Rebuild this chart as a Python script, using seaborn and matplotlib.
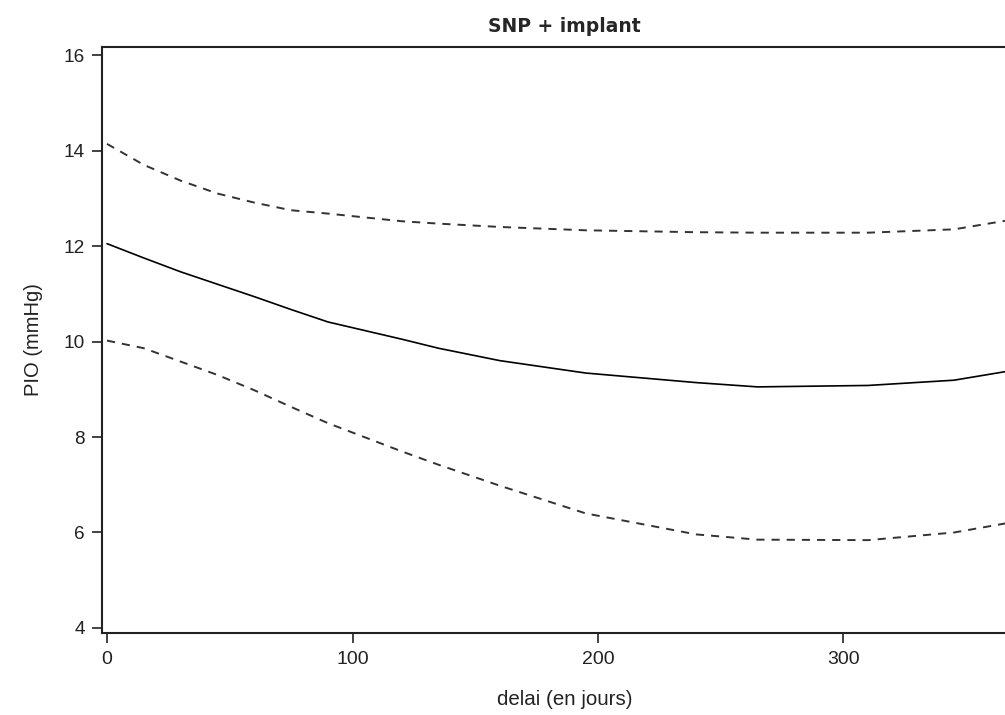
import matplotlib
matplotlib.use("Agg")
import matplotlib.pyplot as plt
import seaborn as sns
import pandas as pd

# Model estimate of IOP over time with its confidence limits
delai = [0, 15, 30, 45, 60, 75, 90, 120, 135, 160, 195, 240, 265, 310, 345, 366]
pio_estimate = [12.05, 11.75, 11.46, 11.20, 10.94, 10.67, 10.41, 10.05, 9.86, 9.60,
                9.34, 9.14, 9.05, 9.08, 9.19, 9.37]
pio_upper = [14.14, 13.70, 13.37, 13.10, 12.91, 12.75, 12.68, 12.52, 12.47, 12.40,
             12.33, 12.29, 12.28, 12.28, 12.35, 12.53]
pio_lower = [10.02, 9.86, 9.58, 9.30, 8.98, 8.63, 8.29, 7.70, 7.42, 6.98,
             6.40, 5.96, 5.85, 5.84, 6.00, 6.19]

x_ticks = [0, 100, 200, 300]
y_ticks = [4, 6, 8, 10, 12, 14, 16]

df = pd.DataFrame({"delai": delai, "est": pio_estimate,
                   "upper": pio_upper, "lower": pio_lower})

sns.set_style("ticks")
plt.rcParams["font.family"] = ["Liberation Sans", "DejaVu Sans"]

fig = plt.figure(figsize=(10.05, 7.15), dpi=100)
ax = fig.add_axes([0.1015, 0.1147, 0.921, 0.8196])

sns.lineplot(data=df, x="delai", y="est", ax=ax, color="black", linewidth=1.2)
for col in ["upper", "lower"]:
    sns.lineplot(data=df, x="delai", y=col, ax=ax, color="#333333",
                 linewidth=1.4, linestyle=(0, (4.2, 3.6)))

ax.set_xlim(-2.04, 375)
ax.set_ylim(3.895, 16.17)
ax.set_xticks(x_ticks)
ax.set_yticks(y_ticks)
ax.tick_params(axis="both", direction="out", length=7, width=1.2,
               colors="#222222")
ax.tick_params(axis="x", labelsize=14, pad=6)
ax.tick_params(axis="y", labelsize=13.7, pad=5.5)

for side in ["left", "bottom", "top"]:
    ax.spines[side].set_linewidth(1.5)
    ax.spines[side].set_color("#222222")
ax.spines["right"].set_visible(False)

ax.set_xlabel("delai (en jours)", fontsize=14.8, color="#222222", labelpad=15.5)
ax.set_ylabel("PIO (mmHg)", fontsize=14.5, color="#222222", labelpad=14.5)
ax.set_title("SNP + implant", fontsize=13.5, fontweight="bold",
             family=["DejaVu Sans"], pad=11)

fig.savefig("out.png", dpi=100)
